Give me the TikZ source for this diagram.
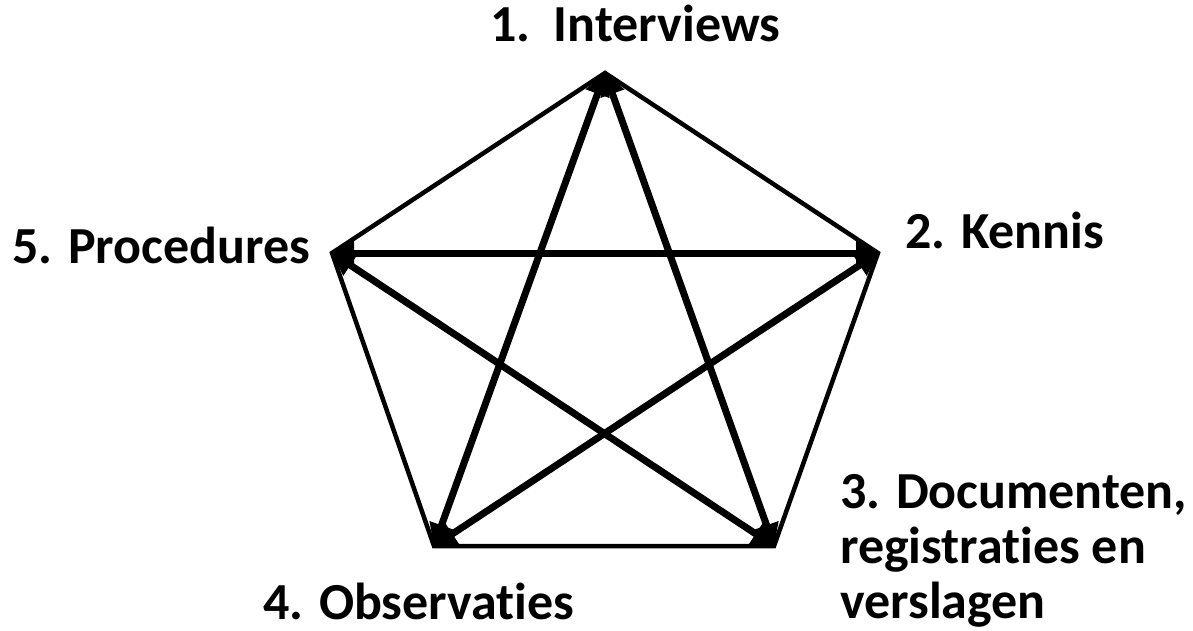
\documentclass[tikz,border=0pt]{standalone}
\usepackage{fontspec}
\setmainfont{Carlito}[RawFeature={-liga}]
\usepackage{tikz}
\usetikzlibrary{arrows.meta}

\begin{document}
\begin{tikzpicture}[x=1pt, y=-1pt,
  rim/.style={draw=black, line width=4.5pt, line join=miter},
  spoke/.style={draw=black, line width=7pt,
    {Triangle[length=22pt,width=24pt]}-{Triangle[length=22pt,width=24pt]}},
  lbl/.style={inner sep=0pt, font=\fontsize{52}{55}\selectfont\bfseries}]
  \useasboundingbox (0,0) rectangle (1193,630);
  \coordinate (P1) at (605,73);
  \coordinate (P2) at (878,253);
  \coordinate (P3) at (774,546);
  \coordinate (P4) at (434,546);
  \coordinate (P5) at (332,253);
  \draw[rim] (P1) -- (P2) -- (P3) -- (P4) -- (P5) -- cycle;
  \draw[spoke] (P1) -- (P3);
  \draw[spoke] (P1) -- (P4);
  \draw[spoke] (P2) -- (P4);
  \draw[spoke] (P2) -- (P5);
  \draw[spoke] (P3) -- (P5);
  \node[lbl, anchor=base west] (L1) at (490,41) {1.\ \ Interviews};
  \node[lbl, anchor=base west] (L2) at (905,248) {2. Kennis};
  \node[lbl, anchor=base west, align=left] (L3) at (840,618)
    {3. Documenten,\\registraties en\\verslagen};
  \node[lbl, anchor=base west] (L4) at (263,619) {4. Observaties};
  \node[lbl, anchor=base west] (L5) at (12,263) {5. Procedures};
\end{tikzpicture}
\end{document}
